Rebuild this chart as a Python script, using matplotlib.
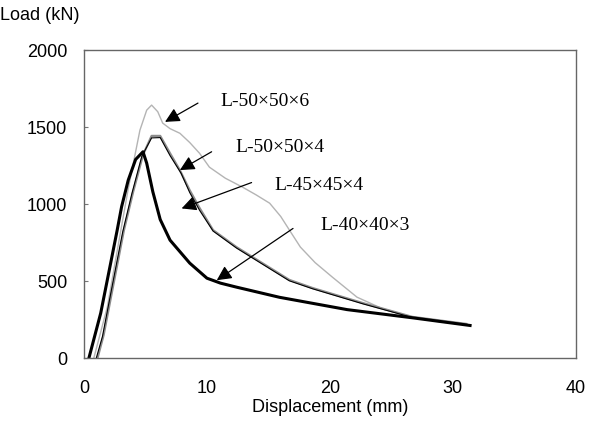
import matplotlib
matplotlib.use("Agg")
import matplotlib.pyplot as plt

# load-displacement curves
x_50x6 = [0.8, 1.9, 3.0, 3.6, 4.55, 5.1, 5.5, 6.0, 6.4, 7.0, 7.8, 8.6, 9.4, 10.2,
          11.5, 12.9, 14.0, 15.1, 16.0, 16.8, 17.6, 18.8, 20.2, 22.2, 24.3, 26.5, 29.0, 31.0]
y_50x6 = [0, 333, 831, 1100, 1480, 1610, 1643, 1600, 1526, 1490, 1460, 1400, 1330, 1240,
          1168, 1110, 1060, 1006, 920, 820, 721, 620, 526, 396, 320, 270, 235, 218]

x_50x4 = [1.1, 1.6, 2.3, 3.25, 4.0, 4.8, 5.5, 6.2, 7.0, 7.8, 8.6, 9.4, 10.5, 12.4,
          14.6, 16.7, 18.6, 22.7, 26.7, 31.1]
y_50x4 = [0, 150, 440, 831, 1080, 1320, 1443, 1443, 1330, 1220, 1090, 975, 831, 721,
          612, 508, 455, 357, 268, 222]

x_45x4 = [1.0, 1.5, 2.2, 3.15, 3.9, 4.7, 5.5, 6.2, 7.0, 7.9, 8.6, 9.4, 10.5, 12.4,
          14.6, 16.7, 18.6, 22.7, 26.7, 31.1]
y_45x4 = [0, 140, 430, 820, 1070, 1310, 1430, 1432, 1315, 1200, 1075, 960, 825, 715,
          606, 502, 450, 352, 264, 218]

x_40x3 = [0.4, 1.36, 2.17, 2.7, 3.06, 3.6, 4.2, 4.8, 5.1, 5.6, 6.2, 7.0, 8.6, 10.0, 11.1, 12.4,
          15.9, 21.4, 26.7, 31.4]
y_40x3 = [0, 292, 617, 831, 983, 1156, 1290, 1340, 1266, 1080, 900, 766, 617, 519, 487, 461,
          395, 315, 262, 212]

labels = ["L-50×50×6", "L-50×50×4", "L-45×45×4", "L-40×40×3"]
label_xy = [(11.06, 1664), (12.3, 1365), (15.5, 1123), (19.2, 864)]
arrow_tail = [(9.27, 1656), (10.38, 1340), (13.63, 1140), (17.0, 842)]
arrow_tip = [(6.59, 1534), (7.8, 1221), (7.94, 972), (10.8, 506)]

fig = plt.figure(figsize=(6.02, 4.32), dpi=100)
ax = fig.add_axes([0.1395, 0.171, 0.817, 0.713])

ax.plot(x_50x6, y_50x6, color="#b4b4b4", lw=1.0)
ax.plot(x_50x4, y_50x4, color="#8c8c8c", lw=1.6)
ax.plot(x_45x4, y_45x4, color="black", lw=0.8)
ax.plot(x_40x3, y_40x3, color="black", lw=2.2)

for lab, pos, tail, tip in zip(labels, label_xy, arrow_tail, arrow_tip):
    ax.text(pos[0], pos[1], lab, family="Liberation Serif", fontsize=14,
            va="center", ha="left")
    ax.annotate("", xy=tip, xytext=tail,
                arrowprops=dict(arrowstyle="-|>", mutation_scale=22, lw=0.9,
                                color="black", shrinkA=0, shrinkB=0))

ax.set_xlim(0, 40)
ax.set_ylim(0, 2000)
ax.set_xticks([0, 10, 20, 30, 40])
ax.set_yticks([0, 500, 1000, 1500, 2000])
ax.tick_params(axis="y", direction="in", length=3, color="#777777", pad=12,
               labelsize=13)
ax.tick_params(axis="x", length=0, pad=16, labelsize=13)
for lab in ax.get_xticklabels() + ax.get_yticklabels():
    lab.set_family("Liberation Sans")
for sp in ax.spines.values():
    sp.set_color("#666666")
    sp.set_linewidth(1.0)

ax.set_xlabel("Displacement (mm)", family="Liberation Sans", fontsize=13, labelpad=1)
fig.text(0.0, 0.965, "Load (kN)", family="Liberation Sans", fontsize=13,
         ha="left", va="center")

fig.savefig("out.png", dpi=100)
